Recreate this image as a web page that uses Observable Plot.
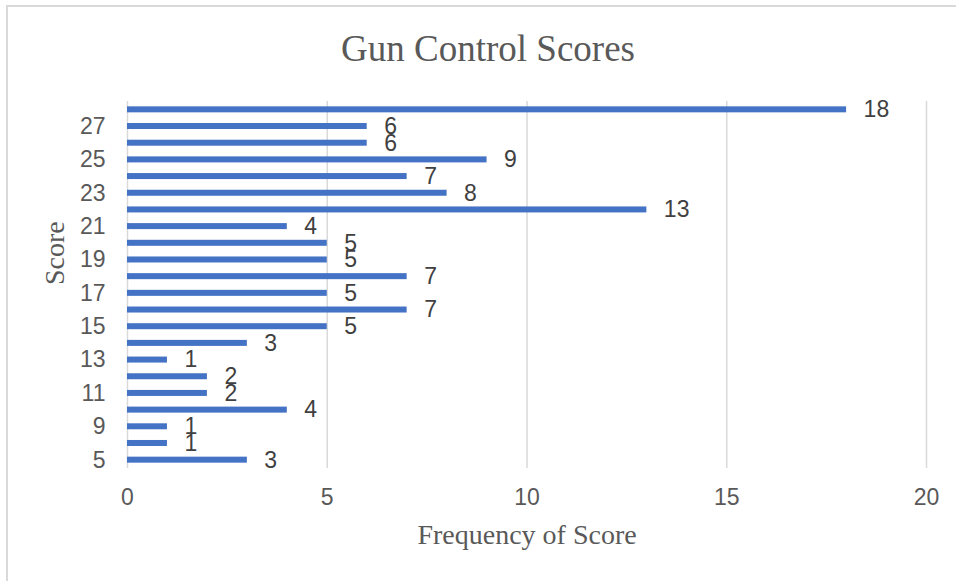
<!DOCTYPE html>
<html>
<head>
<meta charset="utf-8">
<script src="https://cdn.jsdelivr.net/npm/d3@7"></script>
<script src="https://cdn.jsdelivr.net/npm/@observablehq/plot@0.6"></script>
<style>
  html, body { margin: 0; padding: 0; background: #fff; overflow: hidden; }
  #wrap { position: relative; width: 956px; height: 581px; }
  #border { position: absolute; left: 6px; top: 5px; width: 1200px; height: 1200px;
            border-left: 2px solid #d9d9d9; border-top: 2px solid #d9d9d9; pointer-events: none; }
</style>
</head>
<body>
<div id="wrap"><div id="border"></div></div>
<script>
// Data (bottom to top)
const scores = ["5","8","9","10","11","12","13","14","15","16","17","18","19","20","21","22","23","24","25","26","27","28"];
const frequencies = [3,1,1,4,2,2,1,3,5,7,5,7,5,5,4,13,8,7,9,6,6,18];
const yTickLabels = ["5","9","11","13","15","17","19","21","23","25","27"];
const xTicks = [0,5,10,15,20];
const title = "Gun Control Scores";
const xTitle = "Frequency of Score";
const yTitle = "Score";

const data = scores.map((s, i) => ({score: s, freq: frequencies[i]}));

const sans = "'Liberation Sans', Arial, sans-serif";
const serif = "'Liberation Serif', 'Times New Roman', serif";

const chart = Plot.plot({
  width: 956,
  height: 581,
  marginLeft: 127,
  marginRight: 30,
  marginTop: 101,
  marginBottom: 113,
  style: {fontFamily: sans, background: "transparent", overflow: "visible"},
  x: {domain: [0, 20]},
  y: {domain: scores.slice().reverse(), paddingInner: 0.64, paddingOuter: 0.32, round: false},
  marks: [
    Plot.ruleX(xTicks, {stroke: "#d9d9d9", strokeWidth: 1.5}),
    Plot.barX(data, {x: "freq", y: "score", fill: "#4472C4"}),
    Plot.text(data, {x: "freq", y: "score", text: d => String(d.freq), dx: 17, textAnchor: "start",
      fontSize: 23, fill: "#404040", fontFamily: sans}),
    Plot.axisX({ticks: xTicks, tickSize: 0, tickPadding: 20, fontSize: 23, fill: "#595959", label: null, fontFamily: sans}),
    Plot.axisY({ticks: yTickLabels, tickSize: 0, tickPadding: 22, fontSize: 23, fill: "#595959", label: null, fontFamily: sans}),
    Plot.text([title], {frameAnchor: "top", lineAnchor: "bottom", dx: -39, dy: -41,
      fontSize: 37, fill: "#595959", fontFamily: serif}),
    Plot.text([xTitle], {frameAnchor: "bottom", lineAnchor: "bottom", dy: 75,
      fontSize: 28, fill: "#595959", fontFamily: serif}),
    Plot.text([yTitle], {frameAnchor: "left", lineAnchor: "bottom", rotate: -90, dx: -64,
      fontSize: 28, fill: "#595959", fontFamily: serif})
  ]
});
document.getElementById("wrap").appendChild(chart);
chart.style.position = "absolute";
chart.style.left = "0px";
chart.style.top = "0px";
</script>
</body>
</html>
